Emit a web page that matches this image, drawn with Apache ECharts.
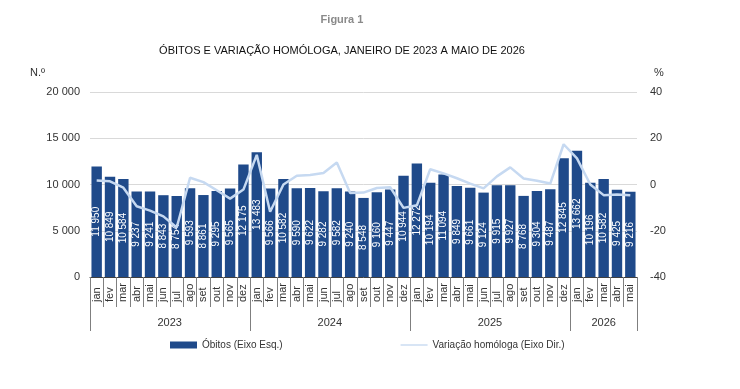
<!DOCTYPE html>
<html lang="pt">
<head>
    <meta charset="UTF-8">
    <title>Óbitos e variação homóloga</title>
    <script src="https://cdn.jsdelivr.net/npm/echarts@6/dist/echarts.min.js"></script>
    <style>
        body { margin: 0; background: #fff; }
    </style>
</head>
<body>
    <div id="main" style="width: 740px;height: 389px"></div>
    <script>
        // meses e anos (jan 2023 a mai 2026)
        var meses = ['jan','fev','mar','abr','mai','jun','jul','ago','set','out','nov','dez',
                     'jan','fev','mar','abr','mai','jun','jul','ago','set','out','nov','dez',
                     'jan','fev','mar','abr','mai','jun','jul','ago','set','out','nov','dez',
                     'jan','fev','mar','abr','mai'];
        var anos = ['2023','2024','2025','2026'];
        // onde começa cada ano no eixo e onde fica a etiqueta
        var inicioAno = [0, 12, 24, 36];
        var etiquetaAno = {6: '{m|2023}', 18: '{m|2024}', 30: '{m|2025}', 38: '{c|2026}'};

        // óbitos (eixo esq.)
        var obitos = [11950, 10849, 10584, 9237, 9241, 8843, 8754, 9593, 8861, 9295, 9565, 12175,
                      13483, 9566, 10582, 9590, 9622, 9282, 9582, 9240, 8548, 9160, 9447, 10944,
                      12272, 10194, 11094, 9849, 9661, 9124, 9915, 9927, 8768, 9304, 9487, 12845,
                      13662, 10196, 10582, 9425, 9216];
        // variação homóloga em % (eixo dir.)
        var variacao = [1.7, 1.4, -1.4, -9.4, -11.3, -13.8, -18.6, 2.9, 1.0, -2.5, -6.1, -2.2,
                        12.8, -11.8, 0.0, 3.8, 4.1, 5.0, 9.5, -3.7, -3.5, -1.5, -1.2, -10.1,
                        -9.0, 6.6, 4.8, 2.7, 0.4, -1.7, 3.5, 7.4, 2.6, 1.6, 0.4, 17.4,
                        11.3, 0.0, -4.6, -4.3, -4.6];

        function milhares(v) {
            return String(v).replace(/\B(?=(\d{3})+(?!\d))/g, ' ');
        }

        var fonte = 'Liberation Sans';
        var mCharts = echarts.init(document.getElementById('main'));
        var option = {
            backgroundColor: '#fff',
            textStyle: { fontFamily: fonte },
            animation: false,
            title: [
                { text: 'Figura 1', left: 337, top: 9, textAlign: 'center',
                  textStyle: { fontSize: 11, fontWeight: 'bold', color: '#8a8a8a', fontFamily: fonte } },
                { text: 'ÓBITOS E VARIAÇÃO HOMÓLOGA, JANEIRO DE 2023 A MAIO DE 2026', left: 337, top: 40, textAlign: 'center',
                  textStyle: { fontSize: 11, fontWeight: 'normal', color: '#111', fontFamily: fonte } }
            ],
            legend: {
                left: 165, top: 335, itemGap: 118, itemWidth: 27, itemHeight: 7, itemDistance: 3,
                textStyle: { fontSize: 10, color: '#333' },
                data: [
                    { name: 'Óbitos (Eixo Esq.)', icon: 'rect' },
                    { name: 'Variação homóloga (Eixo Dir.)', icon: 'path://M0,0 L60,0 L60,3 L0,3 Z',
                      itemStyle: { color: '#c6d9f1' } }
                ]
            },
            grid: { left: 90, right: 103, top: 92, bottom: 112 },
            xAxis: [
                {
                    type: 'category', data: meses, position: 'bottom',
                    axisLine: { onZero: false, lineStyle: { color: '#404040' } },
                    axisTick: { show: true, interval: 0, length: 30, lineStyle: { color: '#7f7f7f' } },
                    axisLabel: { interval: 0, rotate: 90, align: 'left', verticalAlign: 'middle', margin: 25,
                                 fontSize: 11, color: '#333' }
                },
                {
                    type: 'category', data: meses, position: 'bottom',
                    axisLine: { show: false, onZero: false },
                    axisTick: { show: true, length: 54, lineStyle: { color: '#7f7f7f' },
                                interval: function (i) { return inicioAno.indexOf(i) >= 0; } },
                    axisLabel: {
                        interval: function (i) { return etiquetaAno[i] !== undefined; },
                        formatter: function (v, i) { return etiquetaAno[i] || ''; },
                        margin: 40, fontSize: 11, color: '#333',
                        rich: { m: { fontSize: 11, color: '#333', padding: [0, 14, 0, 0] },
                                c: { fontSize: 11, color: '#333' } }
                    }
                }
            ],
            yAxis: [
                {
                    type: 'value', min: 0, max: 20000, interval: 5000,
                    name: 'N.º', nameLocation: 'end', nameGap: 14,
                    nameTextStyle: { align: 'right', padding: [0, 45, 0, 0], fontSize: 11, color: '#333' },
                    axisLine: { show: false }, axisTick: { show: false },
                    splitLine: { lineStyle: { color: '#d9d9d9' } },
                    axisLabel: { formatter: milhares, fontSize: 11, color: '#333', margin: 10 }
                },
                {
                    type: 'value', min: -40, max: 40, interval: 20,
                    name: '%', nameLocation: 'end', nameGap: 14,
                    nameTextStyle: { fontSize: 11, color: '#333', padding: [0, 0, 0, 44] },
                    axisLine: { show: false }, axisTick: { show: false }, splitLine: { show: false },
                    axisLabel: { fontSize: 11, color: '#333', margin: 13 }
                }
            ],
            series: [
                {
                    name: 'Óbitos (Eixo Esq.)', type: 'bar', data: obitos,
                    xAxisIndex: 0, yAxisIndex: 0, barCategoryGap: '22%',
                    itemStyle: { color: '#1f4a8a' },
                    label: { show: true, position: 'inside', rotate: 90, color: '#fff', fontSize: 10,
                             formatter: function (p) { return milhares(p.value); } }
                },
                {
                    name: 'Variação homóloga (Eixo Dir.)', type: 'line', data: variacao,
                    xAxisIndex: 0, yAxisIndex: 1, showSymbol: false, symbol: 'none',
                    lineStyle: { color: '#c6d9f1', width: 2.5 }, itemStyle: { color: '#c6d9f1' }, z: 5
                }
            ]
        };
        mCharts.setOption(option);
    </script>
</body>
</html>
